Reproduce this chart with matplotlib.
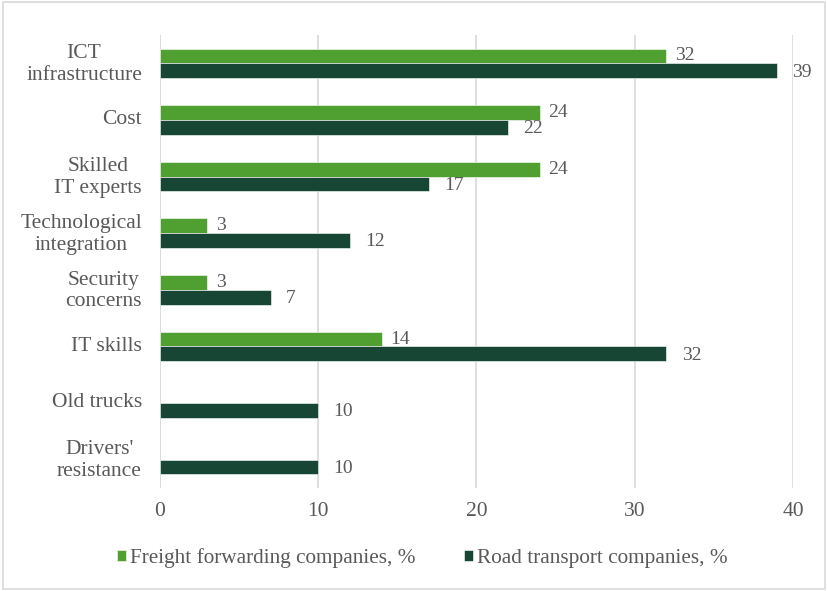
import matplotlib
matplotlib.use("Agg")
import matplotlib.pyplot as plt
import numpy as np
from matplotlib.patches import Rectangle
from matplotlib.transforms import ScaledTranslation

categories = ["ICT\ninfrastructure", "Cost", "Skilled\nIT experts", "Technological\nintegration",
              "Security\nconcerns", "IT skills", "Old trucks", "Drivers'\nresistance"]
freight = [32, 24, 24, 3, 3, 14, None, None]
road = [39, 22, 17, 12, 7, 32, 10, 10]
series_names = ["Freight forwarding companies, %", "Road transport companies, %"]
xticks = [0, 10, 20, 30, 40]

c_light = "#4f9f31"
c_dark = "#174734"
txt = "#595959"

plt.rcParams['font.family'] = ['Liberation Serif', 'DejaVu Serif']

fig = plt.figure(figsize=(8.28, 5.91), dpi=100)
fig.patches.append(Rectangle((0.004, 0.004), 0.992, 0.992, transform=fig.transFigure,
                             fill=False, edgecolor="#d9d9d9", linewidth=1.2))
ax = fig.add_axes([160/828, 1-488/591, (793-160)/828, (488-35)/591])

y = np.arange(len(categories))
h = 0.26
fv = [v if v is not None else 0 for v in freight]
b1 = ax.barh(y - h/2, fv, height=h, color=c_light, edgecolor="white", linewidth=0.4, label=series_names[0])
b2 = ax.barh(y + h/2, road, height=h, color=c_dark, edgecolor="white", linewidth=0.4, label=series_names[1])
for i, v in enumerate(freight):
    if v is None:
        b1[i].set_visible(False)
    else:
        ax.annotate(str(v), (v, y[i] - h/2), xytext=(6, 0), textcoords="offset points",
                    va="center", ha="left", fontsize=14, color=txt)
for i, v in enumerate(road):
    ax.annotate(str(v), (v, y[i] + h/2), xytext=(11, -1), textcoords="offset points",
                va="center", ha="left", fontsize=14, color=txt)

ax.set_xlim(0, 40)
ax.set_ylim(len(categories) - 0.5, -0.5)
ax.set_xticks(xticks)
ax.set_yticks(y)
ax.set_yticklabels(categories, multialignment="center")
ax.tick_params(axis="both", length=0, labelsize=15.5, colors=txt)
ax.tick_params(axis="x", pad=10)
ax.tick_params(axis="y", pad=13)
for lab in ax.get_yticklabels():
    lab.set_transform(lab.get_transform() + ScaledTranslation(0, 2/72, fig.dpi_scale_trans))
for s in ax.spines.values():
    s.set_visible(False)
ax.grid(axis="x", color="#d9d9d9", linewidth=1.2)
ax.axvline(0, color="#d9d9d9", linewidth=1.2, zorder=0)
ax.set_axisbelow(True)

leg = fig.legend(handles=[b1, b2], labels=series_names, loc="center", bbox_to_anchor=(422/828, 1-558/591),
                 ncol=2, frameon=False, fontsize=15.3, handlelength=0.45, handleheight=0.45,
                 handletextpad=0.15, columnspacing=2.3, labelcolor=txt)

fig.savefig("out.png", dpi=100)
